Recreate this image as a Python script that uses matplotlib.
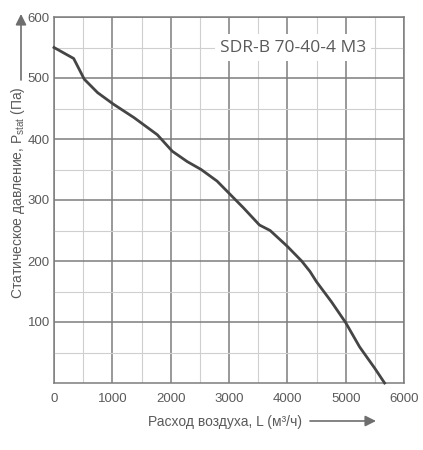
import matplotlib
matplotlib.use("Agg")
import matplotlib.pyplot as plt
from matplotlib.ticker import MultipleLocator

# air flow L (m3/h) vs static pressure (Pa)
flow = [0, 337, 519, 747, 1020, 1372, 1771, 2027, 2283, 2522, 2795, 3022,
        3249, 3522, 3705, 4000, 4245, 4387, 4500, 4757, 5000, 5240, 5500, 5667]
pressure = [550, 532, 498, 476, 457, 435, 407, 380, 363, 350, 331, 309,
            287, 259, 250, 224, 200, 183, 166, 133, 99, 59, 24, 0]

x_ticks = [0, 1000, 2000, 3000, 4000, 5000, 6000]
y_ticks = [100, 200, 300, 400, 500, 600]
model = "SDR-B 70-40-4 M3"

txt_col = "#5a5a5a"
major_col = "#7d7d7d"
minor_col = "#cfcfcf"

plt.rcParams['font.family'] = ['Liberation Sans', 'DejaVu Sans']

fig = plt.figure(figsize=(4.23, 4.5), dpi=100)
ax = fig.add_axes([54/423, 1 - 383/450, 350/423, 366/450])

ax.plot(flow, pressure, color="#454545", linewidth=2.0, solid_joinstyle='round',
        clip_on=False, zorder=3)

ax.set_xlim(0, 6000)
ax.set_ylim(0, 600)
ax.set_xticks(x_ticks)
ax.set_yticks(y_ticks)
ax.xaxis.set_minor_locator(MultipleLocator(500))
ax.yaxis.set_minor_locator(MultipleLocator(50))
ax.grid(True, which='major', color=major_col, linewidth=1.1)
ax.grid(True, which='minor', color=minor_col, linewidth=0.8)
ax.set_axisbelow(True)
for s in ax.spines.values():
    s.set_color(major_col)
    s.set_linewidth(1.1)

ax.tick_params(which='both', length=0)
ax.tick_params(axis='x', pad=7, labelsize=9.5, labelcolor=txt_col)
ax.tick_params(axis='y', pad=3, labelsize=9.5, labelcolor=txt_col)

ax.text(4100, 550, model, family=['Open Sans', 'DejaVu Sans'], fontsize=12.5,
        color=txt_col, ha='center', va='center', zorder=4,
        bbox=dict(boxstyle='square,pad=0.3', facecolor='white', edgecolor='none'))

fig.text(225/423, 1 - 422/450, "Расход воздуха, L (м³/ч)", fontsize=10,
         color=txt_col, ha='center', va='center')
fig.text(18/423, 1 - 193/450, r"Статическое давление, P$_\mathregular{stat}$ (Па)",
         fontsize=10, color=txt_col, ha='center', va='center', rotation=90)

arrow = dict(arrowstyle='-|>', color="#6e6e6e", lw=1.2, mutation_scale=16,
             shrinkA=0, shrinkB=0)
fig.add_artist(matplotlib.patches.FancyArrowPatch(
    (310/423, 1 - 421/450), (376/423, 1 - 421/450),
    transform=fig.transFigure, **arrow))
fig.add_artist(matplotlib.patches.FancyArrowPatch(
    (21/423, 1 - 80/450), (21/423, 1 - 14/450),
    transform=fig.transFigure, **arrow))

fig.savefig("out.png", dpi=100)
